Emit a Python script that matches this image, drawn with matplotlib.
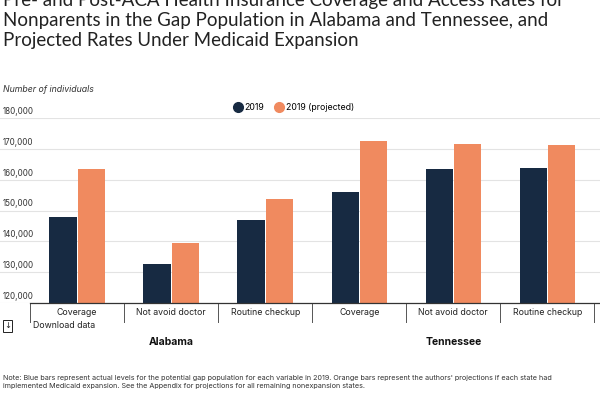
import numpy as np
import matplotlib.pyplot as plt
import matplotlib.transforms as mtransforms
from matplotlib.lines import Line2D

plt.rcParams['font.family'] = ['Inter', 'DejaVu Sans']

categories = ['Coverage', 'Not avoid doctor', 'Routine checkup',
              'Coverage', 'Not avoid doctor', 'Routine checkup']
states = ['Alabama', 'Tennessee']
actual_2019 = [147900, 132800, 146900, 156000, 163300, 163900]
projected_2019 = [163300, 139600, 153700, 172400, 171600, 171400]
yticks = [120000, 130000, 140000, 150000, 160000, 170000, 180000]

dark = '#172a42'
orange = '#f08a5f'

fig = plt.figure(figsize=(6, 4), dpi=100)
ax = fig.add_axes([0, 1 - 303 / 400, 1, 185 / 400])

x = np.arange(len(categories))
w = 0.29
ax.bar(x - w / 2 - 0.005, actual_2019, w, color=dark, zorder=3)
ax.bar(x + w / 2 + 0.005, projected_2019, w, color=orange, zorder=3)

ax.set_xlim(-0.82, 5.56)
ax.set_ylim(120000, 180000)
for s in ax.spines.values():
    s.set_visible(False)
ax.set_xticks([])
ax.set_yticks([])

trans = mtransforms.blended_transform_factory(ax.transAxes, ax.transData)
for t in yticks:
    ax.axhline(t, color='#e3e3e3', lw=0.8, zorder=1)
    ax.text(0.004, t + 700, f'{t:,}', transform=trans, fontsize=5.8,
            color='#333333', va='bottom', ha='left')

# baseline and group separators
ax.plot([-0.5, 5.56], [120000, 120000], color='#333333', lw=0.9, clip_on=False, zorder=4)
for b in np.arange(-0.5, 6, 1):
    ax.plot([b, b], [120000, 120000 - 6000], color='#555555', lw=0.7,
            clip_on=False)
for i, c in enumerate(categories):
    ax.text(i, 120000 - 3000, c, ha='center', va='center', fontsize=6.3, color='#222222')
for j, st in enumerate(states):
    ax.text(1 + 3 * j, 120000 - 12500, st, ha='center', va='center',
            fontsize=7.5, fontweight='bold', color='#111111')

handles = [Line2D([], [], marker='o', ls='', color=dark, markersize=7),
           Line2D([], [], marker='o', ls='', color=orange, markersize=7)]
ax.legend(handles, ['2019', '2019 (projected)'], loc='lower center',
          bbox_to_anchor=(0.49, 1.0), ncol=2, frameon=False, fontsize=6.3,
          handlelength=0.8, columnspacing=1.2, handletextpad=0.4, borderaxespad=0.3)

fig.text(0.005, 1.0 + 8 / 400,
         'Pre- and Post-ACA Health Insurance Coverage and Access Rates for\n'
         'Nonparents in the Gap Population in Alabama and Tennessee, and\n'
         'Projected Rates Under Medicaid Expansion',
         fontsize=13.5, va='top', ha='left', color='#222222', linespacing=1.2,
         family=['Lato', 'DejaVu Sans'])
fig.text(0.005, 1 - 89 / 400, 'Number of individuals', fontsize=6.3,
         style='italic', va='center', color='#333333')
fig.text(0.007, 1 - 326 / 400, '\u2193', fontsize=6, va='center', color='#222222',
         family=['DejaVu Sans'],
         bbox=dict(boxstyle='square,pad=0.15', fc='white', ec='#222222', lw=0.7))
fig.text(0.055, 1 - 326 / 400, 'Download data', fontsize=6.3, va='center', color='#222222')
fig.text(0.005, 1 - 382 / 400,
         'Note: Blue bars represent actual levels for the potential gap population for each variable in 2019. '
         'Orange bars represent the authors\' projections if each state had\n'
         'implemented Medicaid expansion. See the Appendix for projections for all remaining nonexpansion states.',
         fontsize=5.2, va='center', color='#333333', linespacing=1.4)

fig.savefig('out.png', dpi=100)
